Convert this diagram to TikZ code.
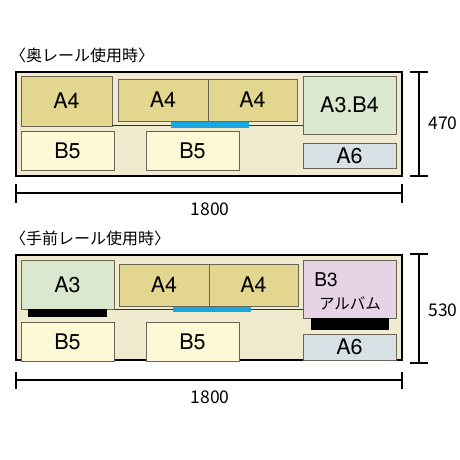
\documentclass[tikz,border=0pt]{standalone}
\usepackage{fontspec}
\setmainfont{TeX Gyre Heros}
\newfontfamily\jp{Noto Sans CJK JP}
\definecolor{cream}{HTML}{F0EACF}
\definecolor{afour}{HTML}{E3D68F}
\definecolor{bfive}{HTML}{FDF8D6}
\definecolor{athree}{HTML}{D9E8CF}
\definecolor{asix}{HTML}{D8E2E6}
\definecolor{bthree}{HTML}{E6D3E6}
\definecolor{railblue}{HTML}{1AA7E0}
\definecolor{boxline}{HTML}{6B6455}
\tikzset{
  frame/.style={draw=black, line width=1.6pt, fill=cream},
  box/.style={draw=boxline, line width=0.9pt, inner sep=0pt, font=\fontsize{21.5}{21.5}\selectfont},
  shelfline/.style={draw=black!80, line width=0.8pt},
  rail/.style={fill=railblue},
  stopper/.style={fill=black},
  dim/.style={draw=black, line width=1.4pt},
  dimlabel/.style={font=\jp\fontsize{17.5}{17.5}\selectfont},
  title/.style={font=\jp\fontsize{16}{16}\selectfont, anchor=west, inner sep=0pt}
}
\begin{document}
\begin{tikzpicture}[x=1pt,y=-1pt]
\useasboundingbox[fill=white] (0,0) rectangle (460,460);
% ---------- top panel ----------
\node[title] (t1) at (10,55) {〈奥レール使用時〉};
\draw[frame] (16,72) rectangle (402,176);
\node[box, fill=afour, minimum width=91pt, minimum height=50pt] (a4l) at (66.5,101) {A4};
\draw[shelfline] (112,125) -- (303,125);
\node[box, fill=afour, minimum width=90pt, minimum height=42pt] (a4m1) at (163,100) {A4};
\node[box, fill=afour, minimum width=89pt, minimum height=42pt] (a4m2) at (252.5,100) {A4};
\fill[rail] (171,122) rectangle (249,128);
\node[box, fill=athree, minimum width=93pt, minimum height=58pt] (a3b4) at (349.5,105) {A3.B4};
\node[box, fill=asix, minimum width=93pt, minimum height=25pt] (a6t) at (349.5,155.5) {A6};
\node[box, fill=bfive, minimum width=93pt, minimum height=39pt] (b5lt) at (67.5,150.5) {B5};
\node[box, fill=bfive, minimum width=93pt, minimum height=39pt] (b5mt) at (192.5,150.5) {B5};
% dims top
\coordinate (rt1) at (419,72); \coordinate (rb1) at (419,176);
\draw[dim] (rt1) -- (rb1);
\draw[dim] (410,72) -- (428,72);
\draw[dim] (410,176) -- (428,176);
\node[dimlabel] (d470) at (443,123) {470};
\coordinate (hl1) at (16,193); \coordinate (hr1) at (402,193);
\draw[dim] (hl1) -- (hr1);
\draw[dim] (16,184) -- (16,203);
\draw[dim] (402,184) -- (402,203);
\node[dimlabel] (w1) at (210,209) {1800};
% ---------- bottom panel ----------
\node[title] (t2) at (10,238) {〈手前レール使用時〉};
\draw[frame] (16,255) rectangle (402,360);
\draw[shelfline] (114,309) -- (303,309);
\node[box, fill=athree, minimum width=93pt, minimum height=49pt] (a3) at (67.5,284.5) {A3};
\fill[stopper] (28,309) rectangle (107,317);
\node[box, fill=afour, minimum width=90pt, minimum height=42pt] (a4b1) at (164,285) {A4};
\node[box, fill=afour, minimum width=89pt, minimum height=42pt] (a4b2) at (253.5,285) {A4};
\fill[rail] (173,307) rectangle (251,312);
\node[box, fill=bthree, minimum width=93pt, minimum height=58pt] (b3) at (349.5,289) {};
\node[font=\fontsize{19}{19}\selectfont, inner sep=0pt] (b3t) at (326,280) {B3};
\node[font=\jp\fontsize{15.5}{15.5}\selectfont, inner sep=0pt] (alb) at (350,303) {アルバム};
\fill[stopper] (311,318) rectangle (389,330);
\node[box, fill=asix, minimum width=93pt, minimum height=26pt] (a6b) at (349.5,347) {A6};
\node[box, fill=bfive, minimum width=93pt, minimum height=39pt] (b5lb) at (67.5,341.5) {B5};
\node[box, fill=bfive, minimum width=93pt, minimum height=39pt] (b5mb) at (192.5,341.5) {B5};
% dims bottom
\coordinate (rt2) at (419,254); \coordinate (rb2) at (419,363);
\draw[dim] (rt2) -- (rb2);
\draw[dim] (410,254) -- (428,254);
\draw[dim] (410,363) -- (428,363);
\node[dimlabel] (d530) at (443,310) {530};
\coordinate (hl2) at (16,380); \coordinate (hr2) at (402,380);
\draw[dim] (hl2) -- (hr2);
\draw[dim] (16,372) -- (16,389);
\draw[dim] (402,372) -- (402,389);
\node[dimlabel] (w2) at (210,397) {1800};
\end{tikzpicture}
\end{document}
